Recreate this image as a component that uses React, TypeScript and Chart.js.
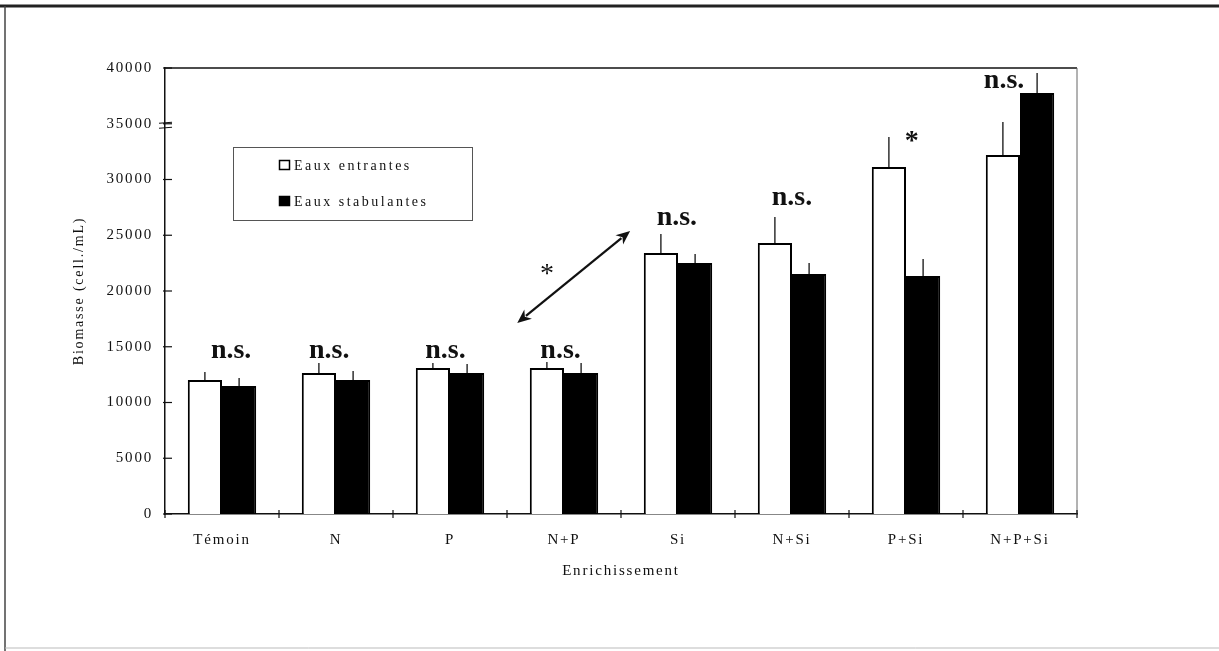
import React, { useEffect, useRef } from "react";
import { Chart, registerables } from "chart.js";

Chart.register(...registerables);

// ---- Data ----
const categories = ["Témoin", "N", "P", "N+P", "Si", "N+Si", "P+Si", "N+P+Si"];
const entrantes = [12020, 12650, 13090, 13090, 23410, 24310, 31120, 32200];
const stabulantes = [11480, 12020, 12650, 12650, 22510, 21530, 21350, 37760];
const entrantesErr = [720, 900, 450, 540, 1700, 2330, 2690, 2960];
const stabulantesErr = [720, 810, 800, 900, 810, 980, 1520, 1790];
const yTickValues = [0, 5000, 10000, 15000, 20000, 25000, 30000, 35000, 40000];

// significance annotations (category position, value level)
const signifLabels = ["n.s.", "n.s.", "n.s.", "n.s.", "n.s.", "n.s.", "*", "n.s."];
const signifX = [0.08, 0.94, 1.96, 2.97, 3.99, 5.0, 6.05, 6.86];
const signifY = [13990, 13990, 13990, 13990, 25920, 27710, 32780, 38210];

// arrow between N+P and Si groups, with its label
const arrowFrom = { x: 2.59, y: 17130 };
const arrowTo = { x: 3.58, y: 25380 };
const arrowLabel = { text: "*", x: 2.85, y: 20810 };

const SERIF = "'Liberation Serif', 'Times New Roman', serif";

const decorPlugin = {
  id: "decor",
  beforeDraw(chart: any) {
    const ctx = chart.ctx;
    ctx.letterSpacing = "1.8px";
    ctx.save();
    ctx.fillStyle = "#fff";
    ctx.fillRect(0, 0, chart.width, chart.height);
    // outer figure frame
    ctx.strokeStyle = "#222";
    ctx.lineWidth = 3;
    ctx.beginPath();
    ctx.moveTo(0, 6);
    ctx.lineTo(chart.width, 6);
    ctx.stroke();
    ctx.lineWidth = 1.5;
    ctx.strokeStyle = "#444";
    ctx.beginPath();
    ctx.moveTo(5, 6);
    ctx.lineTo(5, chart.height);
    ctx.stroke();
    ctx.strokeStyle = "#bbb";
    ctx.lineWidth = 1;
    ctx.beginPath();
    ctx.moveTo(5, chart.height - 3);
    ctx.lineTo(chart.width, chart.height - 3);
    ctx.stroke();
    ctx.restore();
  },
  afterDraw(chart: any) {
    const ctx = chart.ctx;
    const { left, right, top, bottom } = chart.chartArea;
    const xs = chart.scales.x;
    const ys = chart.scales.y;
    ctx.save();
    ctx.letterSpacing = "0px";
    // plot frame top/right
    ctx.strokeStyle = "#111";
    ctx.lineWidth = 1.5;
    ctx.beginPath();
    ctx.moveTo(left, top);
    ctx.lineTo(right, top);
    ctx.stroke();
    ctx.strokeStyle = "#666";
    ctx.lineWidth = 1;
    ctx.beginPath();
    ctx.moveTo(right, top);
    ctx.lineTo(right, bottom);
    ctx.stroke();
    // y tick marks (mostly inward)
    ctx.strokeStyle = "#111";
    ctx.lineWidth = 1.2;
    yTickValues.forEach((v) => {
      const y = ys.getPixelForValue(v);
      ctx.beginPath();
      ctx.moveTo(left - 2, y);
      ctx.lineTo(left + 7, y);
      ctx.stroke();
    });
    // axis break mark near 35000
    const yb = ys.getPixelForValue(35000);
    ctx.lineWidth = 1.2;
    [-1, 4].forEach((d) => {
      ctx.beginPath();
      ctx.moveTo(left - 6, yb + d + 0.5);
      ctx.lineTo(left + 7, yb + d - 0.5);
      ctx.stroke();
    });
    // x tick marks at category boundaries
    for (let i = 0; i <= categories.length; i++) {
      const x = xs.getPixelForValue(i - 0.5);
      ctx.beginPath();
      ctx.moveTo(x, bottom - 4);
      ctx.lineTo(x, bottom + 4);
      ctx.stroke();
    }
    // legend box
    const lx = 233, ly = 147, lw = 239, lh = 73;
    ctx.strokeStyle = "#555";
    ctx.lineWidth = 1;
    ctx.strokeRect(lx + 0.5, ly + 0.5, lw, lh);
    ctx.letterSpacing = "2.5px";
    ctx.font = `14px ${SERIF}`;
    ctx.textBaseline = "middle";
    ctx.textAlign = "left";
    chart.data.datasets.forEach((ds: any, i: number) => {
      const cy = ly + 18 + i * 36;
      ctx.fillStyle = ds.backgroundColor;
      ctx.fillRect(279, cy - 5, 11, 10);
      ctx.strokeStyle = "#000";
      ctx.lineWidth = 1.5;
      ctx.strokeRect(279.5, cy - 4.5, 10, 9);
      ctx.fillStyle = "#111";
      ctx.fillText(ds.label, 294, cy + 1);
    });
    ctx.restore();
  },
  afterDatasetsDraw(chart: any) {
    const ctx = chart.ctx;
    const xs = chart.scales.x;
    const ys = chart.scales.y;
    ctx.save();
    ctx.letterSpacing = "0px";
    // error bars (upward)
    ctx.strokeStyle = "#111";
    ctx.lineWidth = 1.3;
    const errs = [entrantesErr, stabulantesErr];
    chart.data.datasets.forEach((ds: any, di: number) => {
      const meta = chart.getDatasetMeta(di);
      meta.data.forEach((bar: any, i: number) => {
        const v = ds.data[i];
        const y0 = ys.getPixelForValue(v);
        const y1 = ys.getPixelForValue(v + errs[di][i]);
        ctx.beginPath();
        ctx.moveTo(bar.x, y0);
        ctx.lineTo(bar.x, y1);
        ctx.stroke();
      });
    });
    // significance labels
    ctx.fillStyle = "#111";
    ctx.textAlign = "center";
    ctx.textBaseline = "alphabetic";
    signifLabels.forEach((t, i) => {
      ctx.font = `bold 28px ${SERIF}`;
      ctx.fillText(t, xs.getPixelForValue(signifX[i]), ys.getPixelForValue(signifY[i]));
    });
    // double arrow
    const x1 = xs.getPixelForValue(arrowFrom.x), y1 = ys.getPixelForValue(arrowFrom.y);
    const x2 = xs.getPixelForValue(arrowTo.x), y2 = ys.getPixelForValue(arrowTo.y);
    const ang = Math.atan2(y2 - y1, x2 - x1);
    const head = 14, hw = 6;
    ctx.strokeStyle = "#111";
    ctx.lineWidth = 2.2;
    ctx.beginPath();
    ctx.moveTo(x1 + Math.cos(ang) * head * 0.8, y1 + Math.sin(ang) * head * 0.8);
    ctx.lineTo(x2 - Math.cos(ang) * head * 0.8, y2 - Math.sin(ang) * head * 0.8);
    ctx.stroke();
    const drawHead = (hx: number, hy: number, a: number) => {
      ctx.beginPath();
      ctx.moveTo(hx, hy);
      ctx.lineTo(hx - Math.cos(a) * head + Math.sin(a) * hw, hy - Math.sin(a) * head - Math.cos(a) * hw);
      ctx.lineTo(hx - Math.cos(a) * head * 0.7, hy - Math.sin(a) * head * 0.7);
      ctx.lineTo(hx - Math.cos(a) * head - Math.sin(a) * hw, hy - Math.sin(a) * head + Math.cos(a) * hw);
      ctx.closePath();
      ctx.fill();
    };
    drawHead(x2, y2, ang);
    drawHead(x1, y1, ang + Math.PI);
    ctx.font = `28px ${SERIF}`;
    ctx.fillText(arrowLabel.text, xs.getPixelForValue(arrowLabel.x), ys.getPixelForValue(arrowLabel.y));
    ctx.restore();
  },
};

export default function App() {
  const canvasRef = useRef<HTMLCanvasElement | null>(null);

  useEffect(() => {
    if (!canvasRef.current) return;
    const chart = new Chart(canvasRef.current, {
      type: "bar",
      data: {
        labels: categories,
        datasets: [
          {
            label: "Eaux entrantes",
            data: entrantes,
            backgroundColor: "#ffffff",
            borderColor: "#000000",
            borderWidth: 2,
          },
          {
            label: "Eaux stabulantes",
            data: stabulantes,
            backgroundColor: "#000000",
            borderColor: "#000000",
            borderWidth: 2,
          },
        ],
      },
      options: {
        responsive: false,
        animation: false,
        devicePixelRatio: 1,
        datasets: { bar: { barPercentage: 1, categoryPercentage: 0.6 } },
        layout: { padding: { top: 68, right: 142, bottom: 57, left: 0 } },
        plugins: {
          legend: { display: false },
          tooltip: { enabled: false },
        },
        scales: {
          x: {
            grid: { display: false, drawTicks: false },
            border: { display: true, color: "#111", width: 1.5 },
            ticks: {
              color: "#111",
              font: { family: SERIF, size: 15 },
              padding: 17,
              autoSkip: false,
              maxRotation: 0,
              minRotation: 0,
            },
            title: {
              display: true,
              text: "Enrichissement",
              color: "#111",
              font: { family: SERIF, size: 15 },
              padding: { top: 0, bottom: 14 },
            },
            afterFit: (s: any) => {
              s.height = 80;
            },
          },
          y: {
            min: 0,
            max: 40000,
            grid: { display: false, drawTicks: false },
            border: { display: true, color: "#111", width: 1.5 },
            ticks: {
              stepSize: 5000,
              color: "#111",
              font: { family: SERIF, size: 15 },
              padding: 12,
              callback: (v: any) => String(v),
            },
            title: {
              display: true,
              text: "Biomasse (cell./mL)",
              color: "#111",
              font: { family: SERIF, size: 14 },
              padding: { top: 71, bottom: 0 },
            },
            afterFit: (s: any) => {
              s.width = 165;
            },
          },
        },
      },
      plugins: [decorPlugin],
    } as any);
    return () => chart.destroy();
  }, []);

  return (
    <div style={{ position: "absolute", left: 0, top: 0, width: 1219, height: 651, background: "#fff" }}>
      <canvas ref={canvasRef} width={1219} height={651} style={{ display: "block" }} />
    </div>
  );
}
